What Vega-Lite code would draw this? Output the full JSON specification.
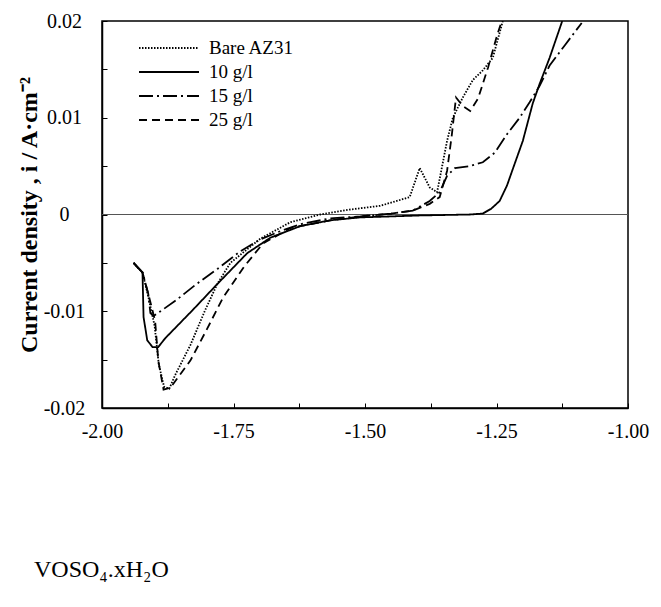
{
  "$schema": "https://vega.github.io/schema/vega-lite/v6.json",
  "width": 526,
  "height": 387,
  "autosize": "none",
  "padding": {"left": 102, "top": 21, "right": 33, "bottom": 199},
  "title": {"text": "VOSO₄.xH₂O", "orient": "bottom", "anchor": "start", "frame": "group", "font": "Liberation Serif", "fontSize": 24, "fontWeight": "normal", "color": "black", "offset": 117, "dx": -68},
  "config": {
    "font": "Liberation Serif",
    "view": {"stroke": "black", "strokeWidth": 1.5},
    "axis": {"grid": false, "domainColor": "black", "domainWidth": 1.5, "tickColor": "black", "tickSize": -5, "labelColor": "black", "labelFont": "Liberation Serif", "labelFontSize": 20, "labelOverlap": false, "labelFlush": false}
  },
  "data": {"values": [
    {"s": "Bare AZ31", "k": 1, "E": -1.940, "i": -0.0050},
    {"s": "Bare AZ31", "k": 2, "E": -1.923, "i": -0.0060},
    {"s": "Bare AZ31", "k": 3, "E": -1.912, "i": -0.0085},
    {"s": "Bare AZ31", "k": 4, "E": -1.900, "i": -0.0115},
    {"s": "Bare AZ31", "k": 5, "E": -1.892, "i": -0.0155},
    {"s": "Bare AZ31", "k": 6, "E": -1.882, "i": -0.0178},
    {"s": "Bare AZ31", "k": 7, "E": -1.872, "i": -0.0180},
    {"s": "Bare AZ31", "k": 8, "E": -1.861, "i": -0.0166},
    {"s": "Bare AZ31", "k": 9, "E": -1.832, "i": -0.0135},
    {"s": "Bare AZ31", "k": 10, "E": -1.804, "i": -0.0099},
    {"s": "Bare AZ31", "k": 11, "E": -1.781, "i": -0.0072},
    {"s": "Bare AZ31", "k": 12, "E": -1.756, "i": -0.0050},
    {"s": "Bare AZ31", "k": 13, "E": -1.699, "i": -0.0025},
    {"s": "Bare AZ31", "k": 14, "E": -1.642, "i": -0.0008},
    {"s": "Bare AZ31", "k": 15, "E": -1.585, "i": 0.0000},
    {"s": "Bare AZ31", "k": 16, "E": -1.530, "i": 0.0005},
    {"s": "Bare AZ31", "k": 17, "E": -1.471, "i": 0.0009},
    {"s": "Bare AZ31", "k": 18, "E": -1.415, "i": 0.0018},
    {"s": "Bare AZ31", "k": 19, "E": -1.396, "i": 0.0048},
    {"s": "Bare AZ31", "k": 20, "E": -1.377, "i": 0.0028},
    {"s": "Bare AZ31", "k": 21, "E": -1.363, "i": 0.0023},
    {"s": "Bare AZ31", "k": 22, "E": -1.344, "i": 0.0076},
    {"s": "Bare AZ31", "k": 23, "E": -1.333, "i": 0.0100},
    {"s": "Bare AZ31", "k": 24, "E": -1.314, "i": 0.0121},
    {"s": "Bare AZ31", "k": 25, "E": -1.295, "i": 0.0139},
    {"s": "Bare AZ31", "k": 26, "E": -1.276, "i": 0.0149},
    {"s": "Bare AZ31", "k": 27, "E": -1.257, "i": 0.0162},
    {"s": "Bare AZ31", "k": 28, "E": -1.238, "i": 0.0200},

    {"s": "10 g/l", "k": 1, "E": -1.940, "i": -0.0050},
    {"s": "10 g/l", "k": 2, "E": -1.923, "i": -0.0060},
    {"s": "10 g/l", "k": 3, "E": -1.921, "i": -0.0106},
    {"s": "10 g/l", "k": 4, "E": -1.914, "i": -0.0130},
    {"s": "10 g/l", "k": 5, "E": -1.904, "i": -0.0137},
    {"s": "10 g/l", "k": 6, "E": -1.893, "i": -0.0137},
    {"s": "10 g/l", "k": 7, "E": -1.880, "i": -0.0128},
    {"s": "10 g/l", "k": 8, "E": -1.828, "i": -0.0099},
    {"s": "10 g/l", "k": 9, "E": -1.781, "i": -0.0072},
    {"s": "10 g/l", "k": 10, "E": -1.724, "i": -0.0040},
    {"s": "10 g/l", "k": 11, "E": -1.680, "i": -0.0024},
    {"s": "10 g/l", "k": 12, "E": -1.623, "i": -0.0012},
    {"s": "10 g/l", "k": 13, "E": -1.566, "i": -0.0006},
    {"s": "10 g/l", "k": 14, "E": -1.509, "i": -0.0003},
    {"s": "10 g/l", "k": 15, "E": -1.396, "i": -0.0001},
    {"s": "10 g/l", "k": 16, "E": -1.300, "i": 0.0000},
    {"s": "10 g/l", "k": 17, "E": -1.276, "i": 0.0001},
    {"s": "10 g/l", "k": 18, "E": -1.260, "i": 0.0006},
    {"s": "10 g/l", "k": 19, "E": -1.244, "i": 0.0014},
    {"s": "10 g/l", "k": 20, "E": -1.230, "i": 0.0030},
    {"s": "10 g/l", "k": 21, "E": -1.219, "i": 0.0047},
    {"s": "10 g/l", "k": 22, "E": -1.200, "i": 0.0076},
    {"s": "10 g/l", "k": 23, "E": -1.181, "i": 0.0115},
    {"s": "10 g/l", "k": 24, "E": -1.168, "i": 0.0135},
    {"s": "10 g/l", "k": 25, "E": -1.149, "i": 0.0162},
    {"s": "10 g/l", "k": 26, "E": -1.125, "i": 0.0200},

    {"s": "15 g/l", "k": 1, "E": -1.940, "i": -0.0050},
    {"s": "15 g/l", "k": 2, "E": -1.923, "i": -0.0060},
    {"s": "15 g/l", "k": 3, "E": -1.912, "i": -0.0082},
    {"s": "15 g/l", "k": 4, "E": -1.908, "i": -0.0102},
    {"s": "15 g/l", "k": 5, "E": -1.902, "i": -0.0105},
    {"s": "15 g/l", "k": 6, "E": -1.860, "i": -0.0089},
    {"s": "15 g/l", "k": 7, "E": -1.823, "i": -0.0073},
    {"s": "15 g/l", "k": 8, "E": -1.780, "i": -0.0056},
    {"s": "15 g/l", "k": 9, "E": -1.737, "i": -0.0038},
    {"s": "15 g/l", "k": 10, "E": -1.700, "i": -0.0026},
    {"s": "15 g/l", "k": 11, "E": -1.660, "i": -0.0017},
    {"s": "15 g/l", "k": 12, "E": -1.623, "i": -0.0010},
    {"s": "15 g/l", "k": 13, "E": -1.566, "i": -0.0004},
    {"s": "15 g/l", "k": 14, "E": -1.509, "i": -0.0002},
    {"s": "15 g/l", "k": 15, "E": -1.450, "i": 0.0001},
    {"s": "15 g/l", "k": 16, "E": -1.409, "i": 0.0004},
    {"s": "15 g/l", "k": 17, "E": -1.377, "i": 0.0014},
    {"s": "15 g/l", "k": 18, "E": -1.358, "i": 0.0023},
    {"s": "15 g/l", "k": 19, "E": -1.344, "i": 0.0040},
    {"s": "15 g/l", "k": 20, "E": -1.329, "i": 0.0048},
    {"s": "15 g/l", "k": 21, "E": -1.301, "i": 0.0050},
    {"s": "15 g/l", "k": 22, "E": -1.276, "i": 0.0054},
    {"s": "15 g/l", "k": 23, "E": -1.253, "i": 0.0064},
    {"s": "15 g/l", "k": 24, "E": -1.230, "i": 0.0083},
    {"s": "15 g/l", "k": 25, "E": -1.206, "i": 0.0100},
    {"s": "15 g/l", "k": 26, "E": -1.187, "i": 0.0116},
    {"s": "15 g/l", "k": 27, "E": -1.168, "i": 0.0133},
    {"s": "15 g/l", "k": 28, "E": -1.149, "i": 0.0154},
    {"s": "15 g/l", "k": 29, "E": -1.120, "i": 0.0175},
    {"s": "15 g/l", "k": 30, "E": -1.088, "i": 0.0198},

    {"s": "25 g/l", "k": 1, "E": -1.940, "i": -0.0050},
    {"s": "25 g/l", "k": 2, "E": -1.923, "i": -0.0060},
    {"s": "25 g/l", "k": 3, "E": -1.912, "i": -0.0082},
    {"s": "25 g/l", "k": 4, "E": -1.899, "i": -0.0110},
    {"s": "25 g/l", "k": 5, "E": -1.893, "i": -0.0151},
    {"s": "25 g/l", "k": 6, "E": -1.883, "i": -0.0181},
    {"s": "25 g/l", "k": 7, "E": -1.870, "i": -0.0179},
    {"s": "25 g/l", "k": 8, "E": -1.832, "i": -0.0151},
    {"s": "25 g/l", "k": 9, "E": -1.800, "i": -0.0118},
    {"s": "25 g/l", "k": 10, "E": -1.770, "i": -0.0086},
    {"s": "25 g/l", "k": 11, "E": -1.730, "i": -0.0054},
    {"s": "25 g/l", "k": 12, "E": -1.694, "i": -0.0030},
    {"s": "25 g/l", "k": 13, "E": -1.642, "i": -0.0014},
    {"s": "25 g/l", "k": 14, "E": -1.566, "i": -0.0006},
    {"s": "25 g/l", "k": 15, "E": -1.509, "i": -0.0002},
    {"s": "25 g/l", "k": 16, "E": -1.450, "i": 0.0001},
    {"s": "25 g/l", "k": 17, "E": -1.409, "i": 0.0004},
    {"s": "25 g/l", "k": 18, "E": -1.377, "i": 0.0011},
    {"s": "25 g/l", "k": 19, "E": -1.358, "i": 0.0018},
    {"s": "25 g/l", "k": 20, "E": -1.344, "i": 0.0045},
    {"s": "25 g/l", "k": 21, "E": -1.335, "i": 0.0082},
    {"s": "25 g/l", "k": 22, "E": -1.327, "i": 0.0121},
    {"s": "25 g/l", "k": 23, "E": -1.314, "i": 0.0112},
    {"s": "25 g/l", "k": 24, "E": -1.300, "i": 0.0107},
    {"s": "25 g/l", "k": 25, "E": -1.285, "i": 0.0120},
    {"s": "25 g/l", "k": 26, "E": -1.266, "i": 0.0152},
    {"s": "25 g/l", "k": 27, "E": -1.249, "i": 0.0185},
    {"s": "25 g/l", "k": 28, "E": -1.240, "i": 0.0200}
  ]},
  "layer": [
    {
      "mark": {"type": "rule", "color": "#555555", "strokeWidth": 1},
      "encoding": {"y": {"datum": 0}}
    },
    {
      "mark": {"type": "line", "color": "black", "strokeWidth": 1.8, "clip": true},
      "encoding": {
        "x": {"field": "E", "type": "quantitative",
          "scale": {"domain": [-2, -1], "nice": false, "zero": false},
          "axis": {"title": null,
            "values": [-2, -1.875, -1.75, -1.625, -1.5, -1.375, -1.25, -1.125, -1],
            "labelExpr": "abs(datum.value*4 - round(datum.value*4)) < 0.000001 ? replace(format(datum.value, '.2f'), '\u2212', '-') : ''",
            "labelPadding": 18, "labelDx": 6}},
        "y": {"field": "i", "type": "quantitative",
          "scale": {"domain": [-0.02, 0.02], "nice": false, "zero": false},
          "axis": {"title": "Current density , i / A·cm⁻²",
            "titleFont": "Liberation Serif", "titleFontSize": 24, "titleFontWeight": "bold", "titleColor": "black", "titlePadding": 2,
            "values": [-0.02, -0.015, -0.01, -0.005, 0, 0.005, 0.01, 0.015, 0.02],
            "labelExpr": "abs(datum.value*100 - round(datum.value*100)) < 0.000001 ? (datum.value == 0 ? '0' : replace(format(datum.value, '.2f'), '\u2212', '-')) : ''",
            "labelAlign": "center", "labelBaseline": "middle", "labelPadding": 43}},
        "strokeDash": {"field": "s", "type": "nominal",
          "scale": {"domain": ["Bare AZ31", "10 g/l", "15 g/l", "25 g/l"],
                    "range": [[1.5, 1.5], [1, 0], [14, 4, 2, 4], [8, 5]]},
          "legend": {"title": null, "orient": "none", "legendX": 56, "legendY": 16,
            "symbolType": "M-3,0H3", "symbolSize": 400, "symbolStrokeWidth": 1.8,
            "symbolStrokeColor": "black", "symbolFillColor": "transparent",
            "labelFont": "Liberation Serif", "labelFontSize": 19, "labelColor": "black",
            "labelOffset": 29, "rowPadding": 3, "padding": 0}},
        "order": {"field": "k"}
      }
    }
  ]
}
